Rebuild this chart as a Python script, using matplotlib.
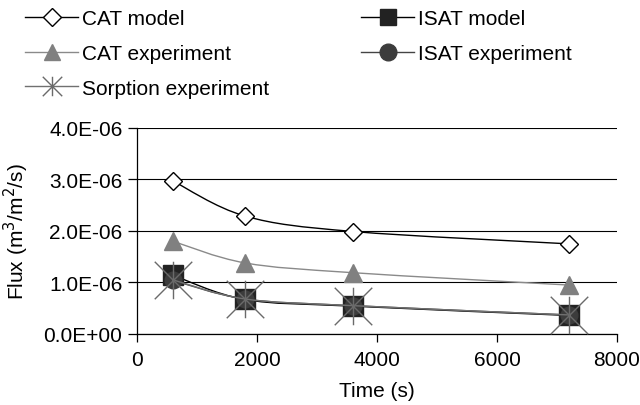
"""Flux vs time for CAT / ISAT models and experiments, Excel-style smoothed lines."""
import numpy as np
import matplotlib

matplotlib.use("Agg")
import matplotlib.pyplot as plt
from matplotlib.path import Path
from matplotlib.patches import PathPatch
from matplotlib.lines import Line2D

plt.rcParams["font.family"] = ["Liberation Sans", "DejaVu Sans"]

time_s = [600, 1800, 3600, 7200]
cat_model = [2.97e-6, 2.29e-6, 1.99e-6, 1.75e-6]
cat_exp = [1.80e-6, 1.38e-6, 1.19e-6, 0.95e-6]
isat_model = [1.14e-6, 0.67e-6, 0.54e-6, 0.36e-6]
isat_exp = [1.04e-6, 0.68e-6, 0.55e-6, 0.37e-6]
sorption_exp = [1.05e-6, 0.68e-6, 0.55e-6, 0.37e-6]

y_ticks = [0, 1e-6, 2e-6, 3e-6, 4e-6]
y_tick_labels = ["0.0E+00", "1.0E-06", "2.0E-06", "3.0E-06", "4.0E-06"]
x_ticks = [0, 2000, 4000, 6000, 8000]
labels = ["CAT model", "CAT experiment", "Sorption experiment", "ISAT model", "ISAT experiment"]

FS = 15

# asterisk marker: vertical bar plus an X
STAR = Path([(0, -1), (0, 1), (-1, -1), (1, 1), (-1, 1), (1, -1)],
            [Path.MOVETO, Path.LINETO, Path.MOVETO, Path.LINETO, Path.MOVETO, Path.LINETO])


def smooth_path(xs, ys):
    """Catmull-Rom style cubic Bezier through the points (like Excel's smoothed line)."""
    p = np.column_stack([xs, ys]).astype(float)
    ext = np.vstack([p[0], p, p[-1]])
    verts = [p[0]]
    codes = [Path.MOVETO]
    for i in range(len(p) - 1):
        p0, p1, p2, p3 = ext[i], ext[i + 1], ext[i + 2], ext[i + 3]
        verts += [p1 + (p2 - p0) / 6, p2 - (p3 - p1) / 6, p2]
        codes += [Path.CURVE4] * 3
    return Path(verts, codes)


fig = plt.figure(figsize=(6.4, 4.06), dpi=100)
ax = fig.add_axes([0.2141, 0.1749, 0.75, 0.5074])

# (values, line colour, marker style in plot, marker size in legend, zorder)
series = [
    (cat_model, "black", dict(marker="D", ms=9, mfc="white", mec="black", mew=1.0), 9, 3),
    (cat_exp, "#8a8a8a", dict(marker="^", ms=13, mfc="#808080", mec="#808080"), 12, 3),
    (sorption_exp, "#707070", dict(marker=STAR, ms=27, mfc="none", mec="#6a6a6a", mew=1.0), 14, 6),
    (isat_model, "black", dict(marker="s", ms=14, mfc="#222222", mec="#222222"), 12, 4),
    (isat_exp, "#444444", dict(marker="o", ms=12, mfc="#3c3c3c", mec="#3c3c3c"), 12, 5),
]
handles = []
for ys, col, mk, leg_ms, z in series:
    ax.add_patch(PathPatch(smooth_path(time_s, ys), fill=False, ec=col, lw=1.0, zorder=z))
    ax.plot(time_s, ys, ls="none", zorder=z + 0.5, clip_on=False, **mk)
    hk = dict(mk, ms=leg_ms)
    handles.append(Line2D([], [], color=col, lw=1.0, **hk))

ax.set_xlim(0, 8000)
ax.set_ylim(0, 4e-6)
ax.set_xticks(x_ticks)
ax.set_yticks(y_ticks)
ax.set_yticklabels(y_tick_labels)
ax.yaxis.grid(True, color="black", lw=0.8)
ax.set_axisbelow(True)
for s in ("top", "right"):
    ax.spines[s].set_visible(False)
ax.spines["left"].set_linewidth(0.9)
ax.spines["bottom"].set_linewidth(0.9)
ax.tick_params(direction="out", width=0.9, labelsize=FS)
ax.tick_params(axis="y", length=6.5, pad=4)
ax.tick_params(axis="x", length=5.5, pad=6)
ax.set_xlabel("Time (s)", fontsize=FS, labelpad=9)
ax.set_ylabel("Flux (m$^3$/m$^2$/s)", fontsize=FS, labelpad=9)

fig.legend(handles, labels, ncol=2, loc="upper left", bbox_to_anchor=(0.026, 0.995),
           frameon=False, fontsize=FS, handlelength=2.55, handletextpad=0.2,
           columnspacing=4.4, labelspacing=0.75, borderaxespad=0.0)

fig.savefig("out.png", dpi=100)
